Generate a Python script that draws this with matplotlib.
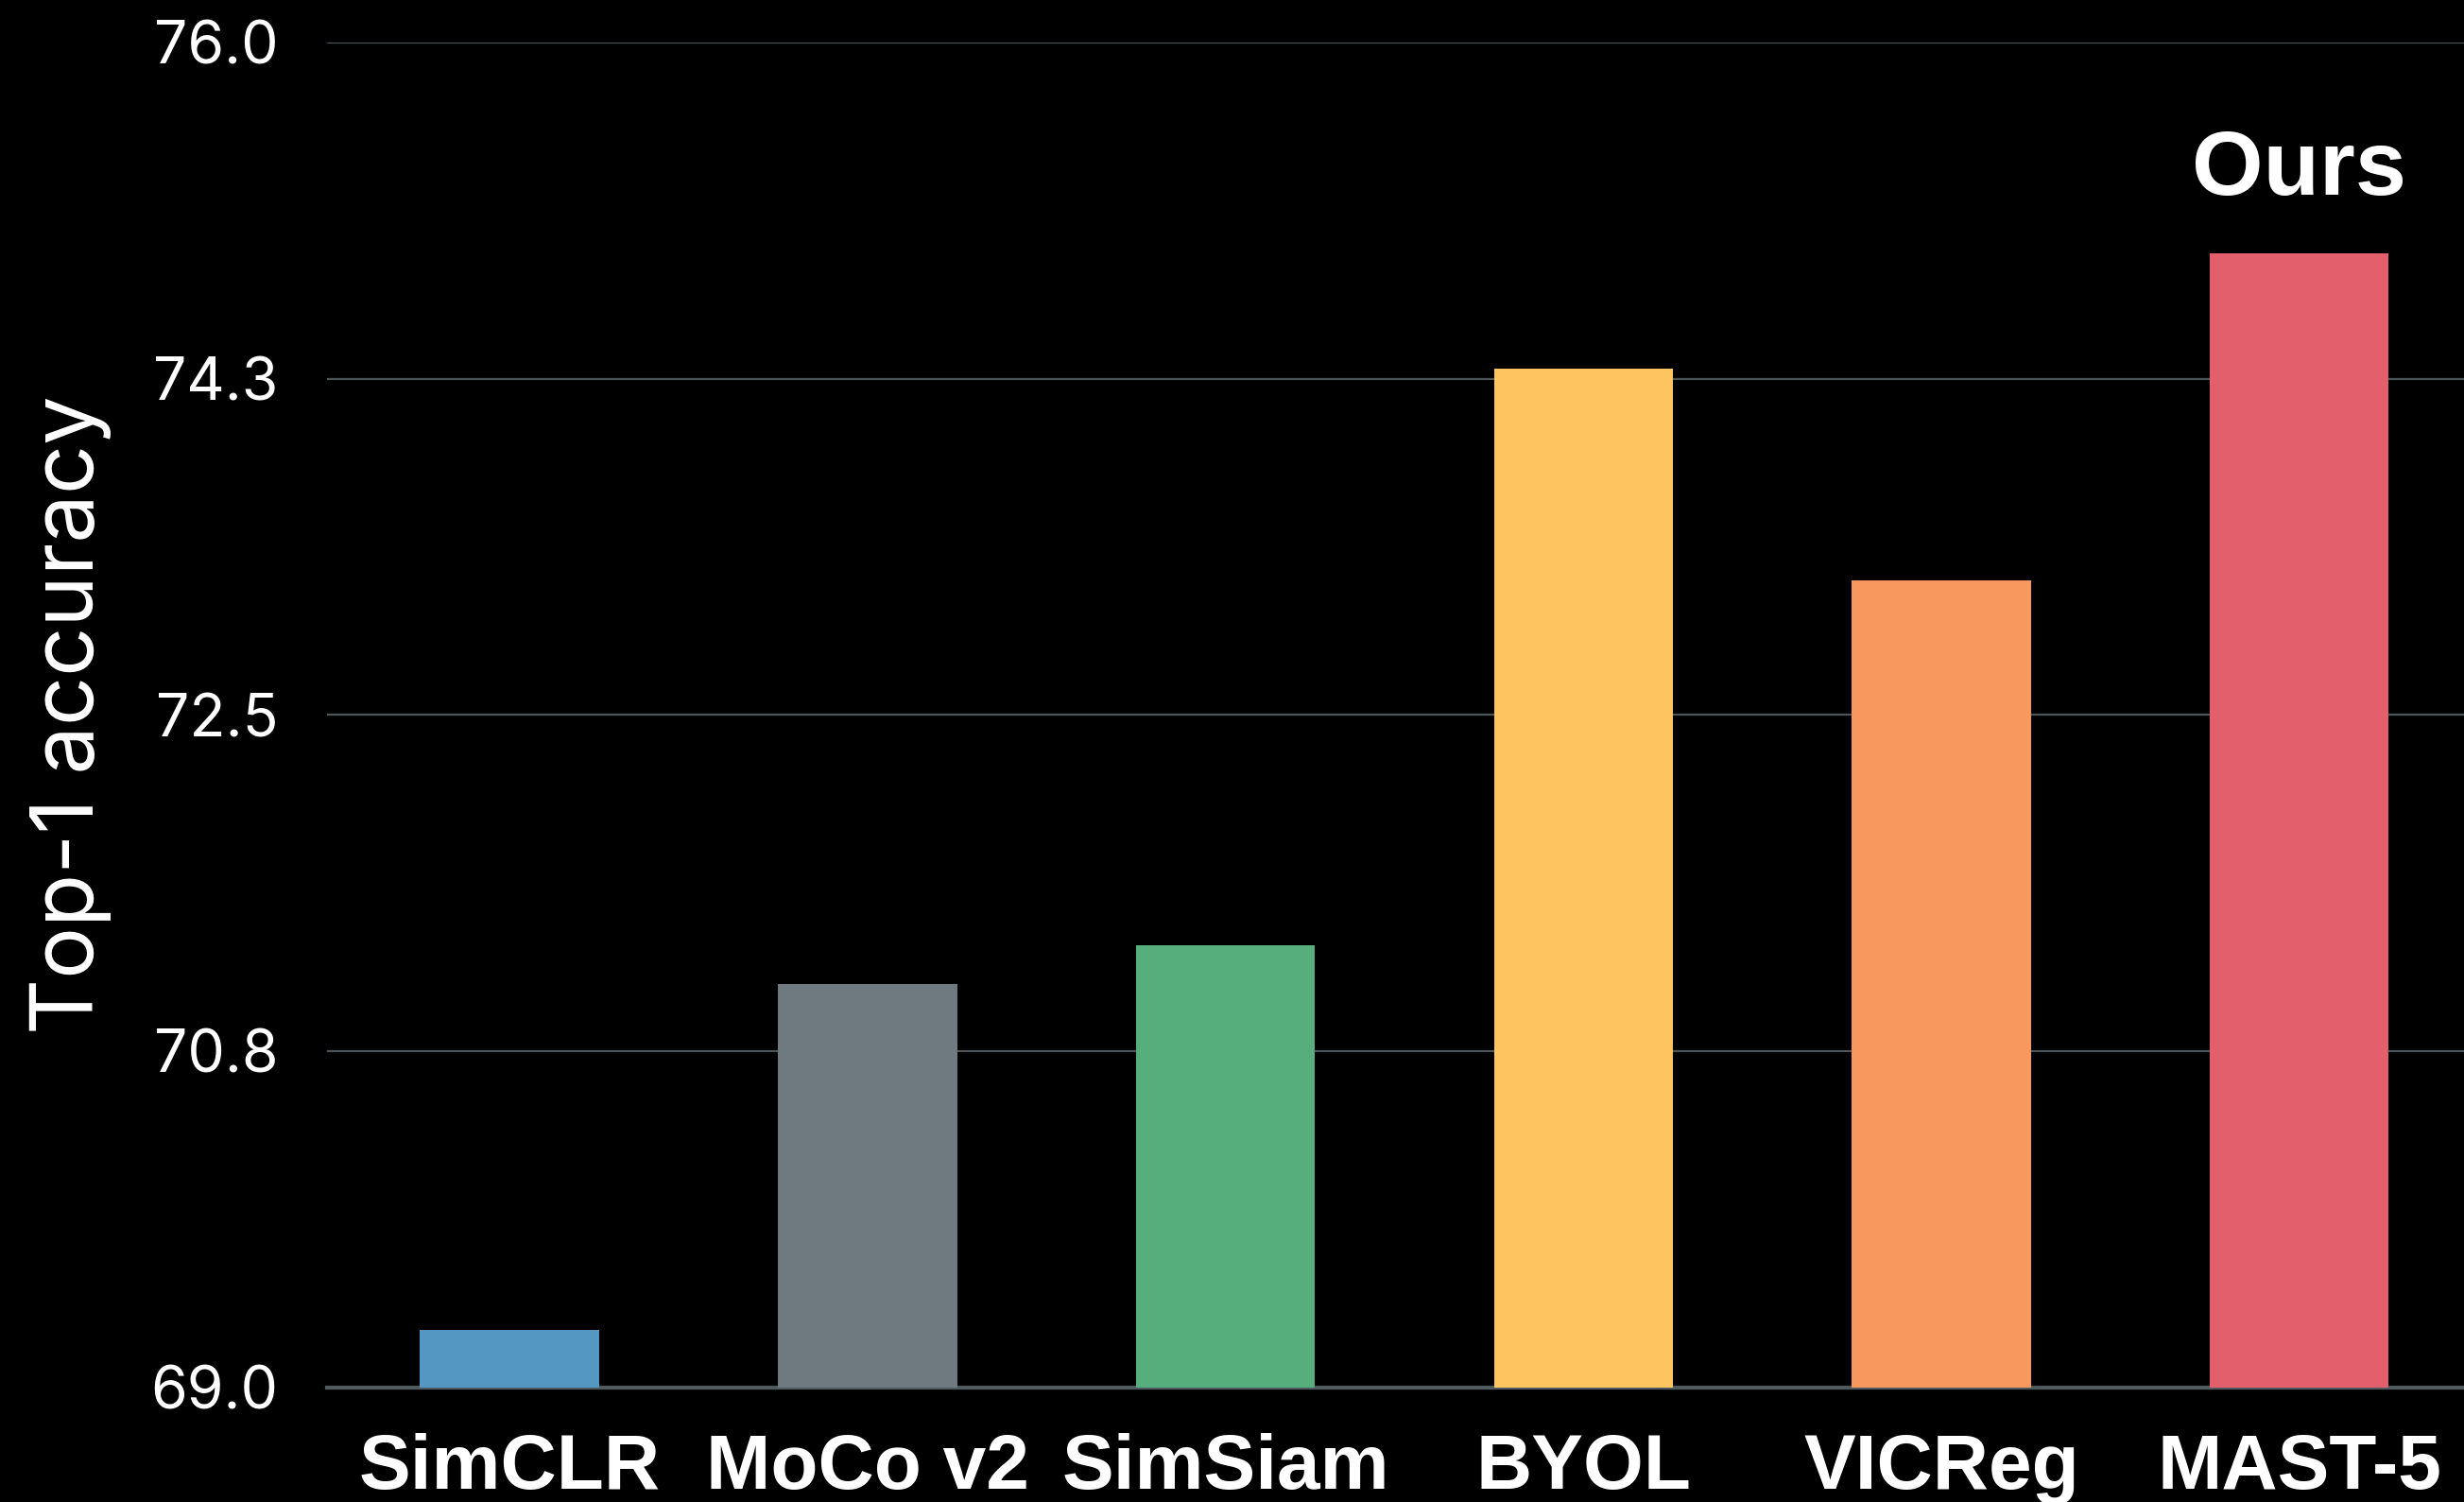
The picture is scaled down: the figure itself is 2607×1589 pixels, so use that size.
import matplotlib
matplotlib.use("Agg")
import matplotlib.pyplot as plt
import numpy as np

methods = ["SimCLR", "MoCo v2", "SimSiam", "BYOL", "VICReg", "MAST-5"]
top1 = [69.3, 71.1, 71.3, 74.3, 73.2, 74.9]
bar_colors = ["#5497c3", "#6f7a80", "#55ae7b", "#fdc45f", "#f9985e", "#e35f6b"]
ytick_values = [69.0, 70.75, 72.5, 74.25, 76.0]
ytick_labels = ["69.0", "70.8", "72.5", "74.3", "76.0"]
highlight_text = "Ours"

fig = plt.figure(figsize=(26.07, 15.89), dpi=100, facecolor="black")
ax = fig.add_axes([0.1327, 0.0764, 0.8673, 0.8954])
ax.set_facecolor("black")

x = np.arange(len(methods))
ax.bar(x, top1, width=0.5, color=bar_colors, zorder=3)

ax.set_ylim(69.0, 76.0)
ax.set_xlim(-0.51, 5.46)

ax.set_yticks(ytick_values)
ax.set_yticklabels(ytick_labels, fontsize=45, color="white", family="Inter")
ax.set_xticks(x)
ax.set_xticklabels(methods, fontsize=59, color="white",
                   family=["Liberation Sans", "DejaVu Sans"],
                   fontweight="bold")
ax.tick_params(axis="y", length=0, pad=37)
ax.tick_params(axis="x", length=0, pad=35)

ax.yaxis.grid(True, color="#4a5459", linewidth=1.6, zorder=0)
ax.set_axisbelow(True)
for side in ["top", "right", "left"]:
    ax.spines[side].set_visible(False)
ax.spines["bottom"].set_color("#4f5a5e")
ax.spines["bottom"].set_linewidth(3)

ax.set_ylabel("Top-1 accuracy", fontsize=66, color="white", family="Inter", labelpad=30)

ax.text(x[-1], 75.33, highlight_text, ha="center", va="center", fontsize=70,
        fontweight="bold", color="white", family="Liberation Sans")

fig.savefig("out.png", dpi=100, facecolor="black")
